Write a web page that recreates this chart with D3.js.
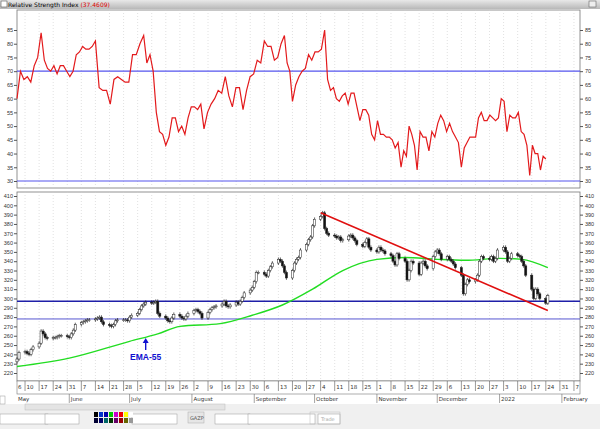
<!DOCTYPE html>
<html><head><meta charset="utf-8">
<script src="https://cdn.jsdelivr.net/npm/d3@7"></script>
<style>body{margin:0;background:#fff}svg{display:block;font-family:"DejaVu Sans",sans-serif}</style>
</head><body><svg id="c" width="600" height="429"></svg>
<script>
// ---- data ----
const startDate = "2021-05-06";
const closes = [235,242, 243,241,240,245,248, 252,265,262,258,257, 258,258,259,260,260, 259,258,262,266,272,
 274,275,276,277,277, 278,279,280,275,272, 271,270,272,276,277, 277,277,276,280,282, 284,288,292,294,296,
 295,296,297,284,281, 279,276,275,279,283, 281,279,278,281,284, 287,288,286,284,279, 285,288,290,291,292,
 294,297,292,291,293, 296,294,297,301,306, 309,312,318,328,328, 326,324,330,334,338, 342,340,335,328,322,
 330,338,342,344,352, 358,363,366,378,385, 388,392,375,370,368, 367,365,366,362,363, 367,368,365,362,358,
 356,360,364,355,352, 350,355,352,351,348, 346,340,336,348,343, 340,320,330,340,338, 326,338,340,335,332,
 345,350,352,348,342, 345,342,340,337,333, 325,305,315,320,318, 320,325,340,345,343, 342,345,340,343,352,
 355,350,340,343,348, 346,345,340,335,325, 310,300,310,305,300, 295,303];
const rsi = [60,70,67,68,66,72,75,84,74,71,70,72,69,72,72,70,68,70,76,77,79,78,78,79,81,64,63,63,58,67,68,67,66,66,76,76,80,83,73,76,70,
 55,48,47,43,46,53,53,48,50,47,53,57,57,56,58,49,55,58,60,63,62,68,61,57,64,64,56,63,68,69,74,73,81,79,79,74,75,80,83,73,70,59,
 65,68,70,71,76,74,77,77,78,85,67,63,64,60,59,61,62,58,62,62,57,52,56,56,54,47,45,52,47,47,46,46,45,42,44,35,41,39,50,47,43,34,
 48,46,46,41,48,46,51,54,52,48,51,48,46,44,35,42,44,46,46,46,53,55,52,52,54,53,52,53,60,59,48,54,53,53,55,48,47,43,32,43,40,40,34,39,38];
// index in rsi -> date where that reading sits
const rsiAnchorIdx = [0,7,24,37,44,56,73,79,82,92,118,124,139,163,169];
const rsiAnchorDates = ["2021-05-06","2021-05-18","2021-06-14","2021-07-08","2021-07-19","2021-08-07","2021-09-06","2021-09-16","2021-09-20","2021-10-06","2021-11-13","2021-11-21","2021-12-13","2022-01-16","2022-01-24"];
const emaDates = ["2021-05-06","2021-06-01","2021-07-01","2021-07-15","2021-07-26","2021-08-15","2021-08-31","2021-09-15","2021-09-30","2021-10-15","2021-11-01","2021-11-15","2021-12-01","2021-12-15","2022-01-01","2022-01-12","2022-01-25"];
const emaVals = [227,236,254,262,270,273,282,293,310,330,342,344,342,341,343,342,333];
const trendPts = [["2021-10-04",392],["2022-01-25",287]];
const hLines = [297,278];
const rsiLevels = [70,30];
const rsiTicks = [30,35,40,45,50,55,60,65,70,75,80,85];
const priceTicks = d3.range(220,411,10);
const monthLabels = [["2021-05-01","May"],["2021-06-01","June"],["2021-07-01","July"],["2021-08-01","August"],["2021-09-01","September"],["2021-10-01","October"],["2021-11-01","November"],["2021-12-01","December"],["2022-01-01","2022"],["2022-02-01","February"]];

// ---- setup ----
const P = d3.timeParse("%Y-%m-%d");
const svg = d3.select("#c");
const L=17, R=580;
const x = d3.scaleTime().domain([P("2021-05-06"),P("2022-02-10")]).range([L,R]);
const yR = d3.scaleLinear().domain([30,85]).range([181,30]);
const yP = d3.scaleLinear().domain([220,410]).range([373,196]);

const tdates=[]; {let d=P(startDate); while(tdates.length<closes.length){ if(d.getDay()>0&&d.getDay()<6) tdates.push(new Date(d)); d=d3.timeDay.offset(d,1);} }

// title bar
const g0=svg.append("defs").append("linearGradient").attr("id","tb").attr("x1",0).attr("y1",0).attr("x2",0).attr("y2",1);
g0.append("stop").attr("offset",0).attr("stop-color","#e8e8e8");g0.append("stop").attr("offset",1).attr("stop-color","#b8b8b8");
svg.append("rect").attr("x",0).attr("y",0).attr("width",600).attr("height",9).attr("fill","url(#tb)");
svg.append("rect").attr("x",1).attr("y",1).attr("width",6).attr("height",6).attr("fill","#fff").attr("stroke","#555").attr("stroke-width",0.6);
const tt=svg.append("text").attr("x",8).attr("y",7).attr("font-size",6);
tt.append("tspan").text("Relative Strength Index ");tt.append("tspan").attr("fill","#d00").text("(37.4609)");
svg.append("rect").attr("x",589).attr("y",1).attr("width",7).attr("height",6).attr("fill","#eee").attr("stroke","#666").attr("stroke-width",0.6);

function panel(y0,y1){
  svg.append("rect").attr("x",L).attr("y",y0).attr("width",R-L).attr("height",y1-y0).attr("fill","#fff").attr("stroke","#777").attr("stroke-width",0.8);
}
panel(10,188); panel(192,381);

const weeks = d3.timeMonday.range(P("2021-05-10"),P("2022-02-10"));
[[10,188],[192,381]].forEach(([a,b])=>{
  svg.append("g").selectAll("line").data(weeks).join("line").attr("x1",d=>x(d)).attr("x2",d=>x(d)).attr("y1",a).attr("y2",b)
   .attr("stroke","#ccc").attr("stroke-width",0.6).attr("stroke-dasharray","1,2");
});

function yaxis(scale,ticks){
  svg.append("g").attr("transform",`translate(${L},0)`).call(d3.axisLeft(scale).tickValues(ticks).tickSize(3).tickPadding(1))
   .call(g=>{g.select(".domain").remove();g.selectAll("text").attr("font-size",5.5).attr("fill","#333");g.selectAll("line").attr("stroke","#555");});
  svg.append("g").attr("transform",`translate(${R},0)`).call(d3.axisRight(scale).tickValues(ticks).tickSize(3).tickPadding(2))
   .call(g=>{g.select(".domain").remove();g.selectAll("text").attr("font-size",5.5).attr("fill","#333");g.selectAll("line").attr("stroke","#555");});
}
yaxis(yR,rsiTicks); yaxis(yP,priceTicks);

svg.append("g").selectAll("line").data(rsiLevels).join("line").attr("x1",L).attr("x2",R).attr("y1",d=>yR(d)).attr("y2",d=>yR(d)).attr("stroke","#5555ee").attr("stroke-width",1.2);
const ri = d3.scaleLinear().domain(rsiAnchorIdx).range(rsiAnchorDates.map(d=>P(d).getTime()));
svg.append("path").datum(rsi).attr("fill","none").attr("stroke","#e31a1c").attr("stroke-width",1.2)
 .attr("d",d3.line().x((d,i)=>x(new Date(ri(i)))).y(d=>yR(d)));

svg.append("line").attr("x1",L).attr("x2",R).attr("y1",yP(hLines[0])).attr("y2",yP(hLines[0])).attr("stroke","#1f1fa8").attr("stroke-width",1.5);
svg.append("line").attr("x1",L).attr("x2",R).attr("y1",yP(hLines[1])).attr("y2",yP(hLines[1])).attr("stroke","#4444cc").attr("stroke-width",0.9);

svg.append("path").datum(emaDates.map((d,i)=>[P(d),emaVals[i]])).attr("fill","none").attr("stroke","#22dd22").attr("stroke-width",1.4)
 .attr("d",d3.line().curve(d3.curveMonotoneX).x(d=>x(d[0])).y(d=>yP(d[1])));

const candles = closes.map((c,i)=>{const o=i?closes[i-1]:c-3;return {d:tdates[i],o,c,h:Math.max(o,c)+2,l:Math.min(o,c)-2};});
const cg=svg.append("g");
cg.selectAll("line").data(candles).join("line").attr("x1",d=>x(d.d)).attr("x2",d=>x(d.d)).attr("y1",d=>yP(d.h)).attr("y2",d=>yP(d.l)).attr("stroke","#222").attr("stroke-width",0.7);
cg.selectAll("rect").data(candles).join("rect").attr("x",d=>x(d.d)-1.1).attr("width",2.2)
 .attr("y",d=>yP(Math.max(d.o,d.c))).attr("height",d=>Math.max(0.8,Math.abs(yP(d.o)-yP(d.c))))
 .attr("fill",d=>d.c>=d.o?"#fff":"#111").attr("stroke","#222").attr("stroke-width",0.5);

svg.append("line").attr("x1",x(P(trendPts[0][0]))).attr("y1",yP(trendPts[0][1])).attr("x2",x(P(trendPts[1][0]))).attr("y2",yP(trendPts[1][1]))
 .attr("stroke","#e01010").attr("stroke-width",1.6);

const ax=x(P("2021-07-09"));
svg.append("line").attr("x1",ax).attr("x2",ax).attr("y1",350).attr("y2",342).attr("stroke","#1010d0").attr("stroke-width",1.4);
svg.append("path").attr("d",`M${ax-3},${343}L${ax},${338}L${ax+3},${343}Z`).attr("fill","#1010d0");
svg.append("text").attr("x",ax).attr("y",360).attr("text-anchor","middle").attr("font-size",8.5).attr("font-weight","bold").attr("fill","#1010d0").attr("font-family","Liberation Sans, Arial").text("EMA-55");

svg.append("rect").attr("x",L).attr("y",381).attr("width",R-L).attr("height",13).attr("fill","#fff").attr("stroke","#777").attr("stroke-width",0.6);
const xa=svg.append("g");
xa.selectAll("line").data(weeks).join("line").attr("x1",d=>x(d)).attr("x2",d=>x(d)).attr("y1",381).attr("y2",391).attr("stroke","#555").attr("stroke-width",0.6);
xa.selectAll("text").data(weeks).join("text").attr("x",d=>x(d)+1.5).attr("y",389).attr("font-size",5.5).attr("fill","#333").text(d=>d.getDate());
svg.append("text").attr("x",L+1).attr("y",389).attr("font-size",5.5).attr("fill","#333").text("6");
const ml=svg.append("g");
ml.selectAll("line").data(monthLabels.slice(1)).join("line").attr("x1",d=>x(P(d[0]))).attr("x2",d=>x(P(d[0]))).attr("y1",394).attr("y2",403).attr("stroke","#666").attr("stroke-width",0.6);
ml.selectAll("text").data(monthLabels).join("text").attr("x",(d,i)=>i?x(P(d[0]))+1.5:L+1).attr("y",401).attr("font-size",5.5).attr("fill","#333").text(d=>d[1]);

svg.append("rect").attr("x",0).attr("y",404).attr("width",600).attr("height",25).attr("fill","#f0f0f0");
svg.append("rect").attr("x",25).attr("y",404).attr("width",200).attr("height",6).attr("fill","#e4e4e4").attr("stroke","#bbb").attr("stroke-width",0.5);
svg.append("rect").attr("x",0).attr("y",396).attr("width",5).attr("height",8).attr("fill","#fff").attr("stroke","#999").attr("stroke-width",0.5);
[[0,48],[45,34],[132,45],[215,35],[248,67],[318,22]].forEach(([a,w])=>{
  svg.append("rect").attr("x",a).attr("y",414).attr("width",w).attr("height",10).attr("fill","#fff").attr("stroke","#999").attr("stroke-width",0.5);
});
const pal=["#000","#0033cc","#00a","#0c0","#c0c","#e00","#ff0","#fff","#003","#006","#066","#030","#606","#900","#660","#999"];
pal.forEach((c,i)=>svg.append("rect").attr("x",94+(i%8)*5).attr("y",412+Math.floor(i/8)*6).attr("width",4).attr("height",5).attr("fill",c));
svg.append("rect").attr("x",188).attr("y",412).attr("width",16).attr("height",11).attr("fill","#e6e6e6").attr("stroke","#aaa").attr("stroke-width",0.5);
svg.append("text").attr("x",190).attr("y",420).attr("font-size",5).attr("fill","#555").text("GAZP");
svg.append("text").attr("x",321).attr("y",421).attr("font-size",5).attr("fill","#aaa").text("Trade");
svg.append("rect").attr("x",310).attr("y",412).attr("width",30).attr("height",12).attr("fill","none").attr("stroke","#bbb").attr("stroke-width",0.5);
</script></body></html>
